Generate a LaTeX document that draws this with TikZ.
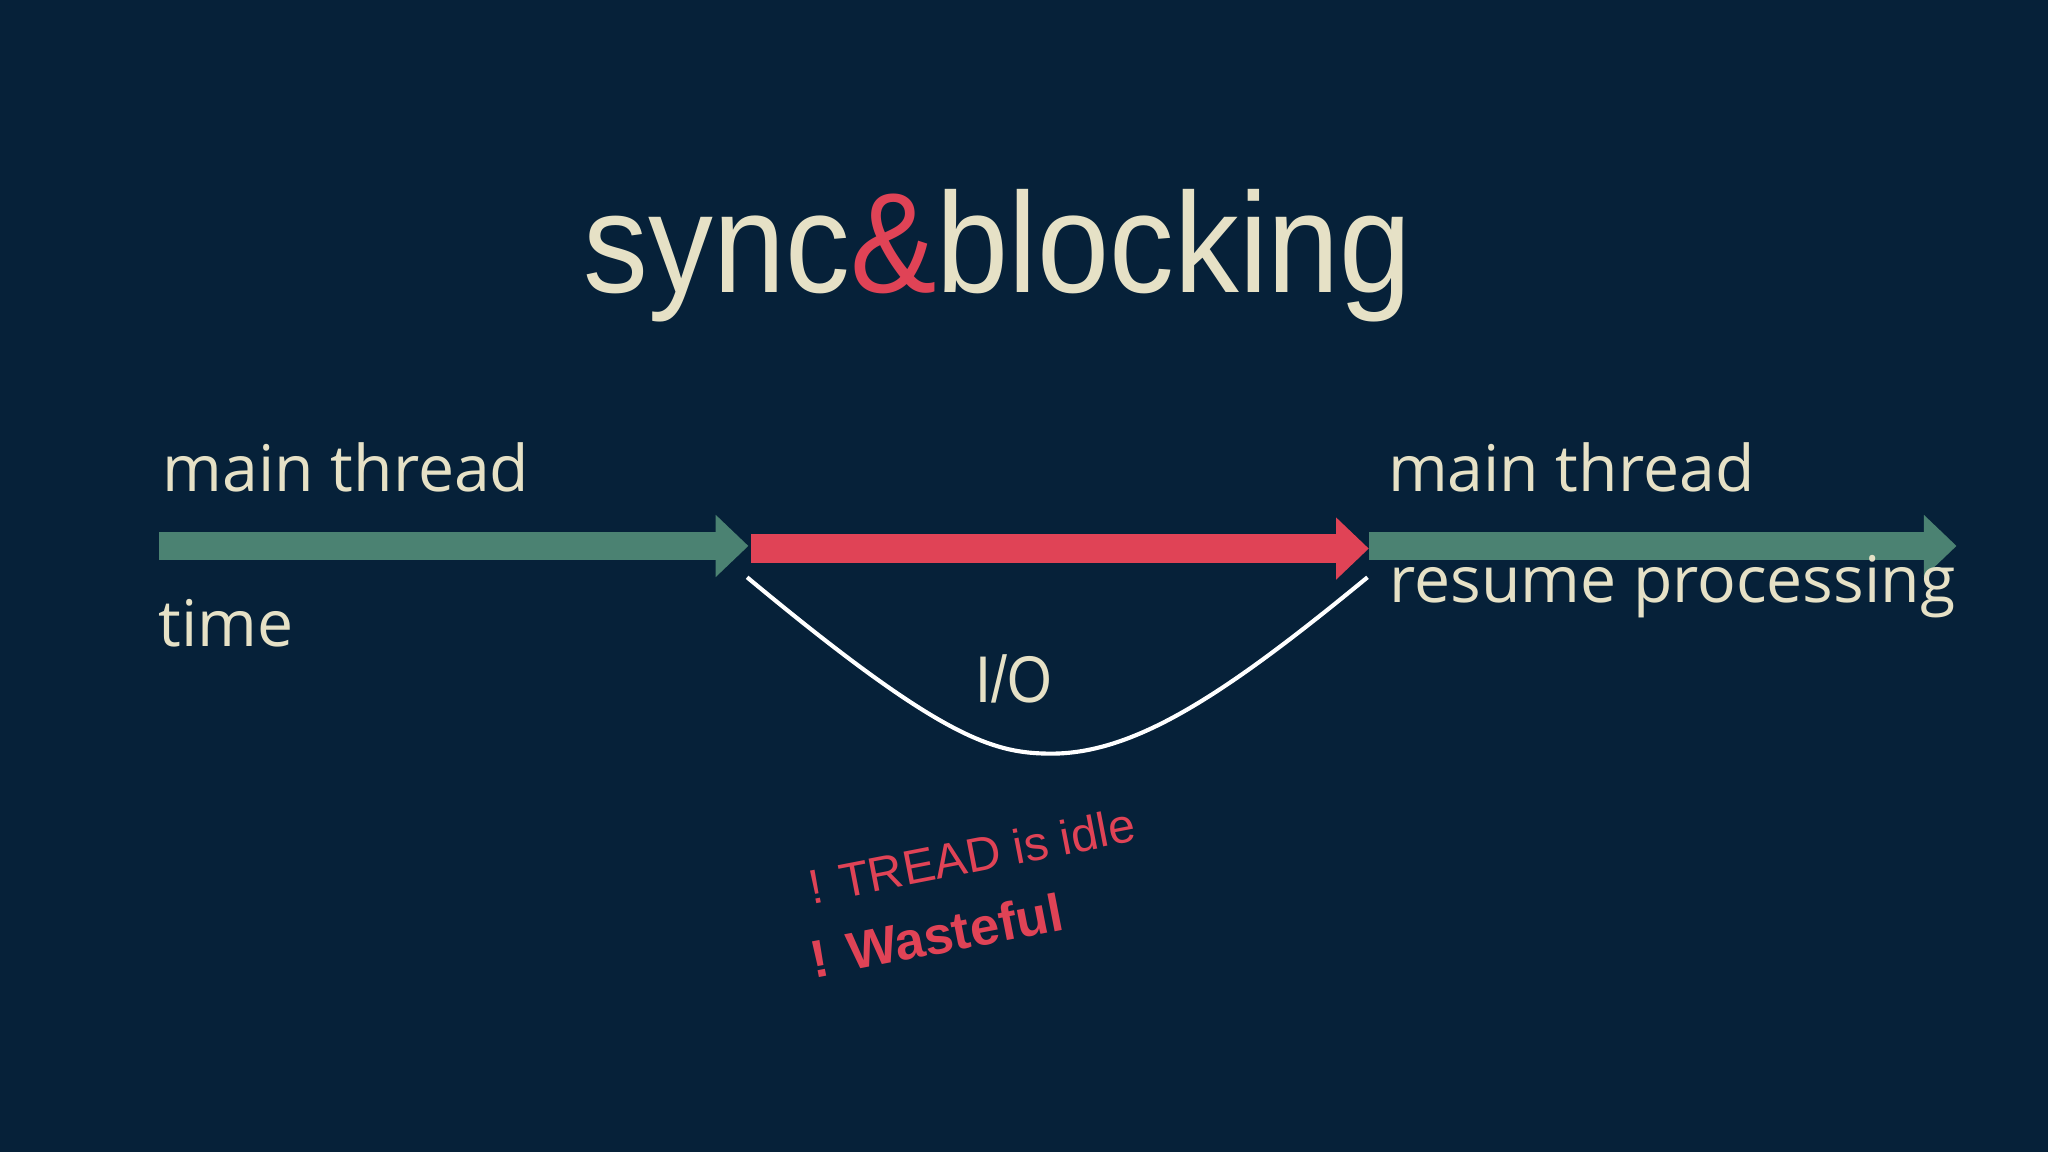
\documentclass[tikz,border=0pt]{standalone}
\usepackage{fontspec}
\setmainfont{Open Sans}
\newfontfamily\arialf{Liberation Sans}
\usetikzlibrary{arrows.meta}
\definecolor{bg}{HTML}{062139}
\definecolor{grn}{HTML}{4B8272}
\definecolor{rd}{HTML}{E04356}
\definecolor{cream}{HTML}{E6E1C6}
\begin{document}
\begin{tikzpicture}[x=0.01cm,y=-0.01cm,
  thr/.style={line width=0.22cm,-{Triangle[length=0.25cm,width=0.46cm]}},
  lbl/.style={text=cream,font=\fontsize{14}{17}\selectfont,inner sep=0pt,anchor=west},
  warn/.style={text=rd,font=\arialf\fontsize{10.5}{13}\selectfont,inner sep=0pt,rotate=11}]
\fill[bg] (0,0) rectangle (1568,882);
\node[inner sep=0pt,xscale=0.91] (title) at (764,196) {\arialf\fontsize{31}{36}\selectfont\color{cream}sync\textcolor{rd}{\&}blocking};
\coordinate (a0) at (122,418); \coordinate (a1) at (573,418);
\coordinate (b0) at (575,420); \coordinate (b1) at (1048,420);
\coordinate (c0) at (1048,418); \coordinate (c1) at (1498,418);
\draw[thr,grn] (a0) -- (a1);
\draw[thr,rd] (b0) -- (b1);
\draw[thr,grn] (c0) -- (c1);
\coordinate (s) at (572,442); \coordinate (e) at (1047,442);
\draw[white,line width=0.9pt] (s) .. controls (720,565) and (760,577) .. (805,577) .. controls (870,577) and (940,530) .. (e);
\node[lbl] (mt1) at (124,358) {main thread};
\node[lbl] (time) at (121,477) {time};
\node[lbl] (mt2) at (1062,358) {main thread};
\node[lbl] (rp) at (1063,449) {resume processing};
\node[lbl,anchor=center,yscale=1.15,font=\arialf\fontsize{12.5}{15}\selectfont] (io) at (776,520) {I/O};
\node[warn] (w1) at (744,655) {! TREAD is idle};
\node[warn,font=\arialf\bfseries\fontsize{11.5}{14}\selectfont] (w2) at (717,716) {! Wasteful};
\end{tikzpicture}
\end{document}
